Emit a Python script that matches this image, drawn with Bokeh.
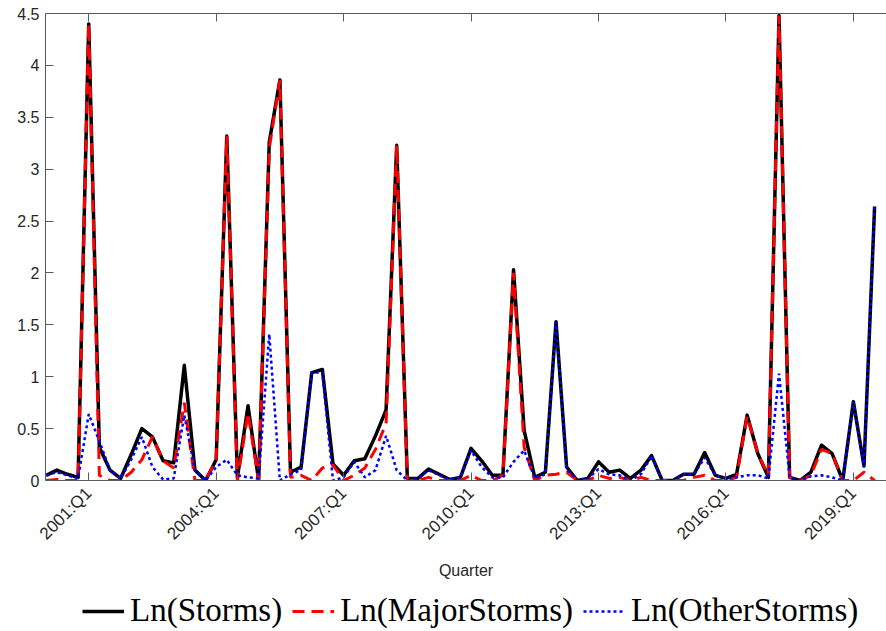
from bokeh.plotting import figure
from bokeh.layouts import column
from bokeh.models import (Range1d, FixedTicker, CustomJSTickFormatter, LinearAxis,
                          Legend, LegendItem, ColumnDataSource)
from bokeh.embed import file_html
from bokeh.resources import INLINE

# Quarters 2000:Q1 .. 2019:Q3
years = list(range(2000, 2020))
quarters = [f"{y}:Q{q}" for y in years for q in range(1, 5)][:79]

storms = [0.05, 0.10, 0.06, 0.03, 4.40, 0.32, 0.10, 0.02, 0.25, 0.50,
          0.42, 0.19, 0.17, 1.11, 0.10, 0.00, 0.20, 3.32, 0.03, 0.72,
          0.00, 3.26, 3.86, 0.08, 0.13, 1.04, 1.07, 0.16, 0.05, 0.19,
          0.21, 0.43, 0.68, 3.23, 0.02, 0.02, 0.11, 0.06, 0.01, 0.03,
          0.31, 0.19, 0.05, 0.05, 2.03, 0.48, 0.03, 0.08, 1.53, 0.13,
          0.00, 0.02, 0.18, 0.08, 0.10, 0.02, 0.10, 0.24, 0.00, 0.00,
          0.06, 0.06, 0.27, 0.05, 0.02, 0.06, 0.63, 0.26, 0.03, 4.48,
          0.03, 0.00, 0.08, 0.34, 0.26, 0.00, 0.76, 0.14, 2.64]

major_storms = [0.00, 0.01, 0.00, 0.00, 4.40, 0.05, 0.00, 0.00, 0.08, 0.20,
                0.42, 0.19, 0.12, 0.75, 0.00, 0.00, 0.20, 3.32, 0.00, 0.65,
                0.00, 3.20, 3.86, 0.03, 0.05, 0.00, 0.12, 0.15, 0.00, 0.05,
                0.12, 0.30, 0.55, 3.23, 0.00, 0.00, 0.03, 0.00, 0.00, 0.00,
                0.05, 0.00, 0.00, 0.05, 2.00, 0.32, 0.00, 0.05, 0.06, 0.08,
                0.00, 0.00, 0.05, 0.02, 0.03, 0.00, 0.03, 0.00, 0.00, 0.00,
                0.00, 0.03, 0.05, 0.00, 0.00, 0.03, 0.62, 0.26, 0.05, 4.48,
                0.03, 0.00, 0.05, 0.30, 0.26, 0.00, 0.00, 0.08, 0.00]

other_storms = [0.05, 0.08, 0.05, 0.02, 0.64, 0.38, 0.10, 0.02, 0.20, 0.42,
                0.13, 0.01, 0.02, 0.63, 0.10, 0.00, 0.13, 0.20, 0.05, 0.03,
                0.02, 1.41, 0.00, 0.06, 0.10, 1.04, 1.04, 0.00, 0.03, 0.18,
                0.03, 0.10, 0.43, 0.10, 0.00, 0.02, 0.10, 0.05, 0.01, 0.03,
                0.29, 0.13, 0.03, 0.03, 0.18, 0.29, 0.02, 0.06, 1.53, 0.11,
                0.00, 0.02, 0.11, 0.06, 0.05, 0.00, 0.06, 0.24, 0.00, 0.00,
                0.06, 0.06, 0.22, 0.05, 0.02, 0.03, 0.05, 0.05, 0.02, 1.03,
                0.03, 0.00, 0.04, 0.05, 0.03, 0.00, 0.76, 0.13, 2.64]

series_names = ["Ln(Storms)", "Ln(MajorStorms)", "Ln(OtherStorms)"]
tick_labels = ["2001:Q1", "2004:Q1", "2007:Q1", "2010:Q1", "2013:Q1", "2016:Q1", "2019:Q1"]
y_ticks = [0, 0.5, 1, 1.5, 2, 2.5, 3, 3.5, 4, 4.5]

x_idx = list(range(len(quarters)))
tick_pos = [quarters.index(t) for t in tick_labels]

src = ColumnDataSource(dict(x=x_idx, q=quarters, s=storms, m=major_storms, o=other_storms))

AX = "#5a5a5a"
TXT = "#262626"
styles = [dict(line_color="black", line_width=3.5, line_join="round"),
          dict(line_color="#ff0000", line_width=3, line_dash="12 7"),
          dict(line_color="#0000ff", line_width=2.5, line_dash="3 3")]

p = figure(width=886, height=585, output_backend="svg", toolbar_location=None,
           x_range=Range1d(-0.07, 79.12), y_range=Range1d(0, 4.5),
           min_border_left=45, min_border_right=0, min_border_top=13, min_border_bottom=105,
           background_fill_color="white", border_fill_color="white")
p.outline_line_color = None
p.grid.visible = False

r1 = p.line("x", "s", source=src, **styles[0])
r2 = p.line("x", "m", source=src, **styles[1])
r3 = p.line("x", "o", source=src, **styles[2])

xa = p.xaxis[0]
xa.ticker = FixedTicker(ticks=tick_pos)
xa.major_label_overrides = {tp: lab for tp, lab in zip(tick_pos, tick_labels)}
xa.major_label_orientation = 0.785398
xa.major_tick_in = 8
xa.major_tick_out = 0
xa.minor_tick_in = 0
xa.minor_tick_out = 0
xa.axis_line_color = AX
xa.major_tick_line_color = AX
xa.major_label_text_font = "Liberation Sans"
xa.major_label_text_font_size = "17px"
xa.major_label_text_color = TXT
xa.major_label_standoff = 10
xa.axis_label = "Quarter"
xa.axis_label_text_font = "Liberation Sans"
xa.axis_label_text_font_size = "16px"
xa.axis_label_text_font_style = "normal"
xa.axis_label_text_color = TXT
xa.axis_label_standoff = 9

ya = p.yaxis[0]
ya.ticker = FixedTicker(ticks=y_ticks)
ya.formatter = CustomJSTickFormatter(code="return tick.toString();")
ya.major_tick_in = 8
ya.major_tick_out = 0
ya.minor_tick_in = 0
ya.minor_tick_out = 0
ya.axis_line_color = AX
ya.major_tick_line_color = AX
ya.major_label_text_font = "Liberation Sans"
ya.major_label_text_font_size = "16px"
ya.major_label_text_color = TXT
ya.major_label_standoff = 6

top = LinearAxis(ticker=FixedTicker(ticks=tick_pos),
                 formatter=CustomJSTickFormatter(code="return '';"),
                 major_tick_in=8, major_tick_out=0, minor_tick_in=0, minor_tick_out=0,
                 axis_line_color=AX, major_tick_line_color=AX, major_label_standoff=0)
p.add_layout(top, "above")

# Legend strip below the chart (its frame is aligned with the chart frame)
p2 = figure(width=886, height=45, output_backend="svg", toolbar_location=None,
            x_range=Range1d(0, 1), y_range=Range1d(0, 1),
            x_axis_location=None, y_axis_location=None,
            min_border=0, background_fill_color="white", border_fill_color="white")
p2.outline_line_color = None
p2.grid.visible = False
# sample lines kept outside the visible range; they only provide legend glyphs
proxy = ColumnDataSource(dict(x=[5, 6], y=[5, 5]))
proxies = [p2.line("x", "y", source=proxy, **st) for st in styles]

legend = Legend(items=[LegendItem(label=n, renderers=[r]) for n, r in zip(series_names, proxies)],
                orientation="horizontal", location=(37, 1),
                label_text_font="Liberation Serif", label_text_font_size="33px",
                label_text_color="black", glyph_width=42, glyph_height=20,
                label_standoff=6, spacing=10, padding=0, margin=0,
                border_line_color=None, background_fill_alpha=0)
p2.add_layout(legend, "center")

layout = column(p, p2, spacing=0)
open("out.html", "w").write(file_html(layout, INLINE))
